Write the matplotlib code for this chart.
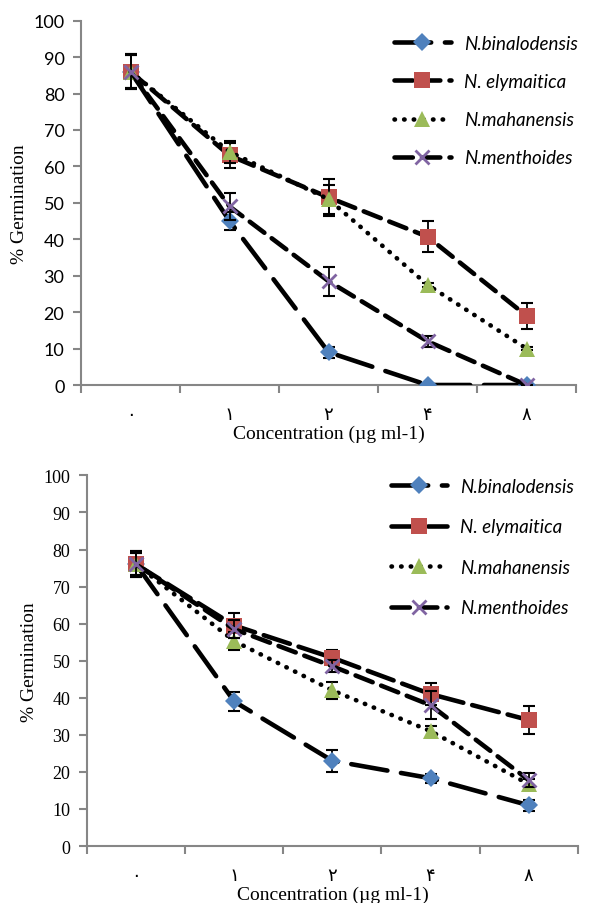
import matplotlib.pyplot as plt

# categories (Persian digits as in the source)
conc_labels = ["۰", "۱", "۲", "۴", "۸"]
species = ["N.binalodensis", "N. elymaitica", "N.mahanensis", "N.menthoides"]

# top panel
top_bin = [86, 45, 9, 0, 0]
top_ely = [86, 63, 51.5, 40.7, 19]
top_mah = [86, 64, 51, 27.5, 10]
top_men = [86, 49, 28.5, 12, 0]
top_bin_err = [4.5, 2.5, 1.5, 0, 0]
top_ely_err = [4.8, 3.5, 5, 4.3, 3.5]
top_mah_err = [4.5, 3, 4, 0.5, 0.5]
top_men_err = [4.8, 3.7, 4, 1.5, 0]

# bottom panel
bot_bin = [76, 39, 23, 18.3, 11]
bot_ely = [76, 59.5, 50.8, 41, 34]
bot_mah = [76, 55.3, 42, 31, 16.7]
bot_men = [76, 58.5, 48.5, 38, 17.8]
bot_bin_err = [3.5, 2.6, 3, 1.2, 1.5]
bot_ely_err = [3.5, 3.5, 2, 3, 3.8]
bot_mah_err = [3, 2.4, 2.3, 1.5, 1.5]
bot_men_err = [3, 2.5, 1.6, 3.8, 2]

colors = ["#4F81BD", "#C0504D", "#9BBB59", "#8064A2"]
markers = ["D", "s", "^", "x"]
msizes = [9, 11, 11, 10]
serif = ["Liberation Serif", "DejaVu Sans"]
grey = "#868686"


def draw_panel(ax, series, errs, dash_sets, tick_family, tick_size, legend_anchor, legend_spacing):
    x = list(range(len(conc_labels)))
    for i, (vals, err) in enumerate(zip(series, errs)):
        ax.errorbar(x, vals, yerr=err, fmt="none", ecolor="black", elinewidth=1.3,
                    capsize=4, capthick=1.5, zorder=2 + i * 2)
        line, = ax.plot(x, vals, color="black", lw=3.3, marker=markers[i], ms=msizes[i],
                        mfc=colors[i], mec=colors[i], mew=2 if markers[i] == "x" else 0,
                        label=species[i], zorder=3 + i * 2)
        line.set_dashes(dash_sets[i])
        line.set_dash_capstyle("round")
    ax.set_xlim(-0.5, 4.5)
    ax.set_ylim(0, 100)
    ax.set_yticks(range(0, 101, 10))
    ax.set_xticks(x)
    ax.set_xticklabels(conc_labels, fontfamily=serif, fontsize=13)
    ax.set_xticks([v - 0.5 for v in range(6)], minor=True)
    ax.tick_params(axis="x", which="major", length=0, pad=15)
    ax.tick_params(axis="x", which="minor", length=6, color=grey, width=1.5, direction="out")
    ax.tick_params(axis="y", length=6, color=grey, width=1.5, pad=6, labelsize=tick_size)
    for lab in ax.get_yticklabels():
        lab.set_fontfamily(tick_family)
    for side in ("top", "right"):
        ax.spines[side].set_visible(False)
    for side in ("left", "bottom"):
        ax.spines[side].set_color(grey)
        ax.spines[side].set_linewidth(1.5)
    ax.set_ylabel("% Germination", fontfamily=serif, fontsize=14, labelpad=4)
    ax.set_xlabel("Concentration (µg ml-1)", fontfamily=serif, fontsize=14, labelpad=1)
    leg = ax.legend(loc="upper left", bbox_to_anchor=legend_anchor, frameon=False,
                    handlelength=3.0, handletextpad=0.7, labelspacing=legend_spacing,
                    borderaxespad=0.2,
                    prop={"family": "Lato", "style": "italic", "size": 13.5})
    return leg


fig = plt.figure(figsize=(5.92, 9.04), dpi=100)
ax1 = fig.add_axes([0.137, 0.573, 0.836, 0.403])
ax2 = fig.add_axes([0.147, 0.063, 0.829, 0.410])

draw_panel(ax1, [top_bin, top_ely, top_mah, top_men],
           [top_bin_err, top_ely_err, top_mah_err, top_men_err],
           [(8, 3), (4, 2), (0.1, 2), (4, 2)], ["Lato", "DejaVu Sans"], 13,
           (0.61, 0.992), 1.13)
draw_panel(ax2, [bot_bin, bot_ely, bot_mah, bot_men],
           [bot_bin_err, bot_ely_err, bot_mah_err, bot_men_err],
           [(8, 3), (6, 2), (0.1, 2), (4, 2)], serif, 13,
           (0.596, 1.024), 1.25)

fig.savefig("out.png", dpi=100)
